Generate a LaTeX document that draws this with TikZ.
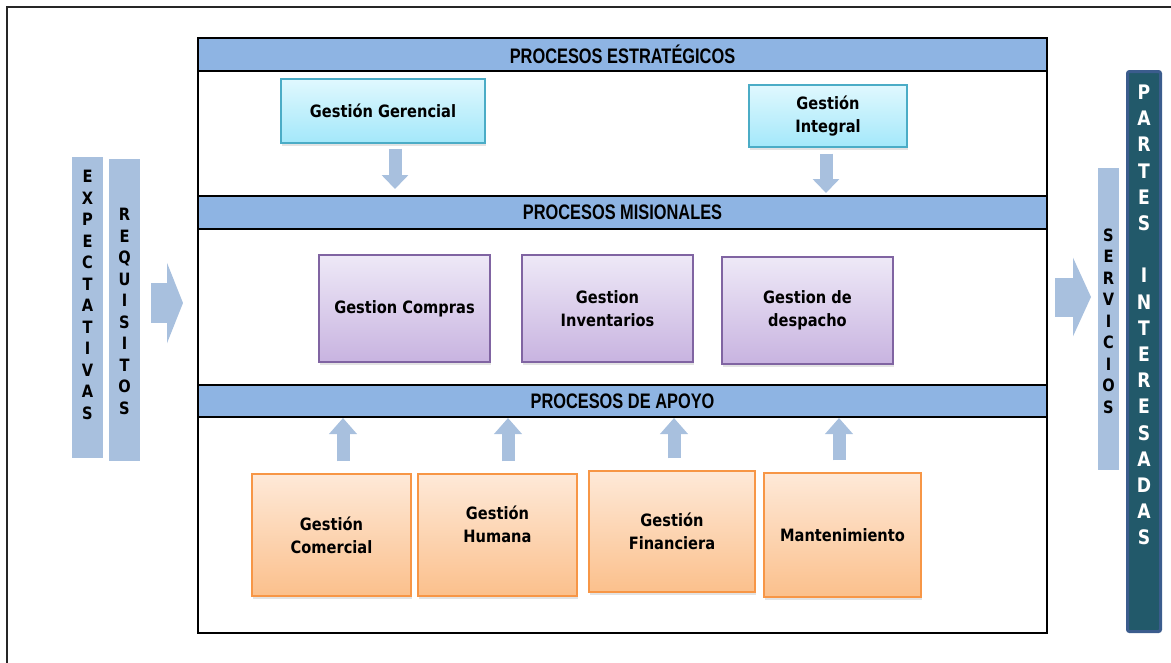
\documentclass[tikz,border=0pt]{standalone}
\usepackage{fontspec}
\newfontfamily\bxf{DejaVu Sans}[FakeStretch=0.86]
\newfontfamily\hdf{Liberation Sans}[FakeStretch=0.78]
\usetikzlibrary{arrows.meta,shadows}
\definecolor{bandc}{HTML}{8EB4E3}
\definecolor{arrowc}{HTML}{A8C0DE}
\definecolor{cyantop}{HTML}{E0F8FE}
\definecolor{cyanbot}{HTML}{A3E8FA}
\definecolor{cyanbd}{HTML}{4BACC6}
\definecolor{purtop}{HTML}{EEE9F7}
\definecolor{purbot}{HTML}{C8B3E0}
\definecolor{purbd}{HTML}{8064A2}
\definecolor{ortop}{HTML}{FEE9D8}
\definecolor{orbot}{HTML}{FBC08C}
\definecolor{orbd}{HTML}{F79646}
\definecolor{tealc}{HTML}{22596A}
\definecolor{tealbd}{HTML}{3B5C8D}
\tikzset{
  band/.style={draw=black, line width=2.5pt, fill=bandc, minimum width=849pt, inner sep=0pt,
    font=\hdf\bfseries\fontsize{21}{22}\selectfont},
  gbox/.style={line width=1.2pt, align=center, inner sep=0pt,
    font=\bxf\bfseries\fontsize{17}{23}\selectfont,
    drop shadow={opacity=0.22, shadow xshift=1pt, shadow yshift=-3pt}},
  cyanbox/.style={gbox, draw=cyanbd, top color=cyantop, bottom color=cyanbot},
  purbox/.style={gbox, draw=purbd, top color=purtop, bottom color=purbot},
  orbox/.style={gbox, draw=orbd, top color=ortop, bottom color=orbot},
  btext/.style={align=center, inner sep=0pt, font=\bxf\bfseries\fontsize{17}{23}\selectfont},
  sidebar/.style={fill=arrowc, inner sep=0pt},
  vletters/.style={align=center, inner sep=0pt, font=\bxf\bfseries\fontsize{17}{21.5}\selectfont},
  pletters/.style={align=center, inner sep=0pt, text=white, font=\bxf\bfseries\fontsize{20}{26.2}\selectfont},
  blk/.style={line width=13pt, draw=arrowc, -{Triangle[width=26pt,length=14pt]}},
  bigarrow/.style={line width=40pt, draw=arrowc, -{Triangle[width=80pt,length=16pt]}}
}
\begin{document}
\begin{tikzpicture}[x=1pt,y=-1pt]
\useasboundingbox (0,0) rectangle (1171,662);
% outer frame
\draw[line width=2pt, black!85] (1190,7) -- (7,7) -- (7,680);
% main box
\node[draw=black, line width=2.5pt, minimum width=849pt, minimum height=595pt, inner sep=0pt] (main) at (622.5,335.5) {};
% bands
\node[band, minimum height=33pt] (b1) at (622.5,54.5) {PROCESOS ESTRATÉGICOS};
\node[band, minimum height=33pt] (b2) at (622.5,212.5) {PROCESOS MISIONALES};
\node[band, minimum height=32pt] (b3) at (622.5,401) {PROCESOS DE APOYO};
% strategic boxes
\node[cyanbox, minimum width=204pt, minimum height=64pt] (gg) at (383,111) {Gestión Gerencial};
\node[cyanbox, minimum width=158pt, minimum height=62pt] (gi) at (828,116) {Gestión\\Integral};
% missional boxes
\node[purbox, minimum width=171pt, minimum height=107pt] (gc) at (404.5,308.5) {Gestion Compras};
\node[purbox, minimum width=171pt, minimum height=107pt] (gv) at (607.5,308.5) {Gestion\\Inventarios};
\node[purbox, minimum width=171pt, minimum height=107pt] (gd) at (807.5,310.5) {Gestion de\\despacho};
% support boxes
\node[orbox, minimum width=159pt, minimum height=122pt] (cc) at (331.5,535) {Gestión\\Comercial};
\node[orbox, minimum width=159pt, minimum height=122pt] (hh) at (497.5,535) {};
\node[btext] (hht) at (497.5,524) {Gestión\\Humana};
\node[orbox, minimum width=166pt, minimum height=121pt] (ff) at (672,531.5) {Gestión\\Financiera};
\node[orbox, minimum width=157pt, minimum height=124pt] (mm) at (842.5,535) {Mantenimiento};
% down arrows
\coordinate (d1) at (395,189);
\coordinate (d2) at (826,193);
\path (gg.south -| d1) ++(0,5) coordinate (s1);
\path (gi.south -| d2) ++(0,6) coordinate (s2);
\draw[blk] (s1) -- (d1);
\draw[blk] (s2) -- (d2);
% up arrows
\coordinate (u1) at (343,418);
\coordinate (u2) at (508,418);
\coordinate (u3) at (674,418);
\coordinate (u4) at (839,418);
\path (cc.north -| u1) ++(0,-12) coordinate (v1);
\path (hh.north -| u2) ++(0,-12) coordinate (v2);
\path (ff.north -| u3) ++(0,-12) coordinate (v3);
\path (mm.north -| u4) ++(0,-12) coordinate (v4);
\foreach \i in {1,2,3,4} {\draw[blk, -{Triangle[width=27pt,length=16pt]}] (v\i) -- (u\i);}
% left bars
\node[sidebar, minimum width=31pt, minimum height=301pt] (exp) at (87.5,307.5) {};
\node[vletters] (expt) at (87.5,295) {E\\X\\P\\E\\C\\T\\A\\T\\I\\V\\A\\S};
\node[sidebar, minimum width=31pt, minimum height=302pt] (req) at (124.5,310) {};
\node[vletters] (reqt) at (124.5,311.5) {R\\E\\Q\\U\\I\\S\\I\\T\\O\\S};
% left arrow
\coordinate (la1) at (151,303);
\coordinate (la2) at (183,303);
\draw[bigarrow] (la1) -- (la2);
% right arrow
\coordinate (ra1) at (1055,297);
\coordinate (ra2) at (1091,297);
\draw[bigarrow, line width=39pt, -{Triangle[width=78pt,length=18pt]}] (ra1) -- (ra2);
% servicios
\node[sidebar, minimum width=21pt, minimum height=302pt] (srv) at (1108.5,319) {};
\node[vletters] (srvt) at (1108.5,321) {S\\E\\R\\V\\I\\C\\I\\O\\S};
% partes interesadas
\node[draw=tealbd, line width=3pt, fill=tealc, rounded corners=2pt, minimum width=33pt, minimum height=560pt, inner sep=0pt] (pi) at (1144,351.5) {};
\node[pletters] (pit) at (1144,315) {P\\A\\R\\T\\E\\S\\[26.2pt]I\\N\\T\\E\\R\\E\\S\\A\\D\\A\\S};
\end{tikzpicture}
\end{document}
